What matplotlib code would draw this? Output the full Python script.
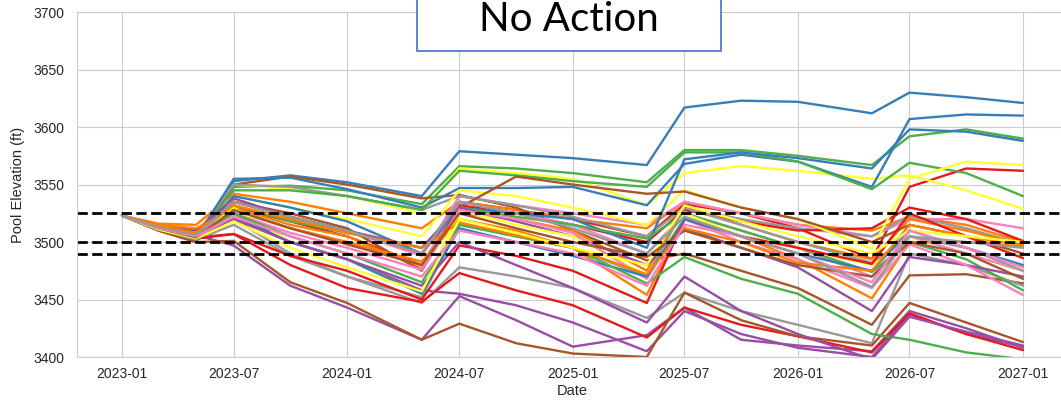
import pandas as pd
import matplotlib
matplotlib.use("Agg")
import matplotlib.pyplot as plt
import matplotlib.dates as mdates
import matplotlib.patches as patches
import seaborn as sns

# sample dates (key points of each trace)
dates = pd.to_datetime([
    "2023-01-01", "2023-03-01", "2023-05-01", "2023-07-01", "2023-10-01",
    "2024-01-01", "2024-05-01", "2024-07-01", "2024-10-01",
    "2025-01-01", "2025-05-01", "2025-07-01", "2025-10-01",
    "2026-01-01", "2026-05-01", "2026-07-01", "2026-10-01", "2027-01-01",
])

# pool elevation traces (ft)
red_1 = [3523, 3513, 3507, 3535, 3522, 3510, 3490, 3535, 3528, 3520, 3505, 3533, 3525, 3512, 3485, 3548, 3564, 3562]
blue_1 = [3523, 3512, 3505, 3553, 3558, 3552, 3540, 3579, 3576, 3573, 3567, 3617, 3623, 3622, 3612, 3630, 3626, 3621]
green_1 = [3523, 3511, 3504, 3548, 3549, 3545, 3533, 3566, 3564, 3560, 3552, 3580, 3580, 3575, 3567, 3592, 3598, 3590]
purple_1 = [3523, 3513, 3506, 3497, 3462, 3443, 3415, 3453, 3432, 3409, 3419, 3443, 3415, 3410, 3405, 3440, 3425, 3408]
orange_1 = [3523, 3516, 3515, 3542, 3535, 3525, 3512, 3535, 3528, 3520, 3512, 3535, 3525, 3515, 3510, 3522, 3515, 3500]
yellow_1 = [3523, 3513, 3506, 3550, 3546, 3540, 3525, 3564, 3560, 3555, 3532, 3560, 3566, 3562, 3555, 3558, 3545, 3529]
brown_1 = [3523, 3510, 3500, 3550, 3557, 3550, 3538, 3541, 3530, 3510, 3484, 3490, 3475, 3460, 3428, 3471, 3472, 3464]
pink_1 = [3523, 3514, 3510, 3530, 3520, 3510, 3488, 3540, 3532, 3525, 3515, 3535, 3525, 3515, 3505, 3520, 3520, 3512]
gray_1 = [3523, 3512, 3505, 3550, 3548, 3540, 3528, 3540, 3532, 3522, 3505, 3530, 3520, 3512, 3505, 3523, 3512, 3498]

red_2 = [3523, 3512, 3506, 3530, 3518, 3505, 3480, 3532, 3525, 3515, 3500, 3528, 3518, 3510, 3512, 3530, 3520, 3501]
blue_2 = [3523, 3511, 3503, 3555, 3556, 3546, 3530, 3547, 3547, 3548, 3532, 3568, 3576, 3570, 3548, 3607, 3611, 3610]
green_2 = [3523, 3512, 3504, 3545, 3545, 3540, 3528, 3562, 3558, 3553, 3548, 3578, 3578, 3570, 3546, 3569, 3560, 3540]
purple_2 = [3523, 3512, 3508, 3525, 3500, 3485, 3458, 3455, 3445, 3430, 3405, 3440, 3420, 3408, 3400, 3437, 3420, 3409]
orange_2 = [3523, 3514, 3510, 3530, 3515, 3505, 3477, 3525, 3520, 3510, 3475, 3530, 3515, 3500, 3485, 3520, 3510, 3498]
yellow_2 = [3523, 3512, 3505, 3540, 3530, 3520, 3505, 3545, 3540, 3530, 3515, 3545, 3530, 3520, 3494, 3555, 3570, 3567]
brown_2 = [3523, 3511, 3503, 3535, 3525, 3512, 3475, 3530, 3557, 3550, 3542, 3544, 3530, 3520, 3500, 3515, 3505, 3490]
pink_2 = [3523, 3512, 3507, 3527, 3512, 3500, 3480, 3535, 3525, 3515, 3490, 3525, 3510, 3495, 3470, 3505, 3490, 3475]
gray_2 = [3523, 3512, 3503, 3520, 3490, 3470, 3447, 3478, 3470, 3460, 3434, 3456, 3440, 3428, 3412, 3490, 3480, 3462]

red_3 = [3523, 3511, 3504, 3507, 3480, 3460, 3448, 3473, 3458, 3445, 3417, 3443, 3428, 3418, 3404, 3438, 3420, 3406]
blue_3 = [3523, 3512, 3504, 3540, 3530, 3518, 3490, 3530, 3525, 3520, 3495, 3572, 3578, 3573, 3564, 3598, 3596, 3588]
green_3 = [3523, 3513, 3507, 3532, 3518, 3508, 3495, 3530, 3522, 3515, 3503, 3525, 3510, 3495, 3474, 3500, 3485, 3458]
purple_3 = [3523, 3514, 3510, 3538, 3522, 3510, 3495, 3530, 3518, 3505, 3480, 3512, 3495, 3478, 3440, 3487, 3480, 3470]
orange_3 = [3523, 3515, 3512, 3528, 3512, 3500, 3483, 3520, 3510, 3495, 3454, 3520, 3505, 3485, 3451, 3500, 3500, 3496]
yellow_3 = [3523, 3512, 3504, 3530, 3500, 3485, 3455, 3528, 3515, 3505, 3471, 3525, 3505, 3495, 3480, 3505, 3495, 3475]
brown_3 = [3523, 3510, 3500, 3501, 3465, 3447, 3415, 3429, 3412, 3403, 3400, 3456, 3432, 3418, 3410, 3447, 3430, 3413]
pink_3 = [3523, 3513, 3508, 3525, 3508, 3495, 3476, 3528, 3520, 3508, 3468, 3520, 3500, 3485, 3460, 3498, 3480, 3454]
gray_3 = [3523, 3511, 3502, 3515, 3488, 3470, 3452, 3515, 3505, 3495, 3470, 3530, 3515, 3500, 3482, 3505, 3495, 3475]

red_4 = [3523, 3512, 3503, 3507, 3488, 3475, 3450, 3497, 3488, 3475, 3447, 3520, 3505, 3495, 3481, 3525, 3505, 3486]
blue_4 = [3523, 3512, 3502, 3522, 3500, 3485, 3455, 3512, 3500, 3488, 3470, 3520, 3505, 3490, 3475, 3510, 3495, 3480]
green_4 = [3523, 3512, 3505, 3525, 3505, 3490, 3465, 3515, 3505, 3495, 3464, 3487, 3468, 3455, 3420, 3415, 3404, 3398]
purple_4 = [3523, 3512, 3505, 3520, 3500, 3485, 3462, 3500, 3480, 3460, 3430, 3470, 3440, 3420, 3398, 3435, 3422, 3410]
orange_4 = [3523, 3514, 3508, 3532, 3520, 3508, 3495, 3517, 3506, 3495, 3472, 3512, 3500, 3482, 3475, 3515, 3505, 3497]
yellow_4 = [3523, 3511, 3503, 3518, 3495, 3478, 3457, 3520, 3508, 3495, 3480, 3532, 3518, 3505, 3490, 3510, 3505, 3500]
brown_4 = [3523, 3512, 3504, 3528, 3512, 3498, 3480, 3525, 3512, 3500, 3487, 3510, 3495, 3480, 3470, 3500, 3490, 3468]
pink_4 = [3523, 3512, 3505, 3522, 3505, 3490, 3470, 3510, 3500, 3490, 3462, 3515, 3505, 3490, 3465, 3510, 3495, 3478]
gray_4 = [3523, 3513, 3506, 3535, 3522, 3510, 3490, 3535, 3525, 3512, 3490, 3522, 3505, 3490, 3461, 3505, 3500, 3495]

traces = [
    red_1, blue_1, green_1, purple_1, orange_1, yellow_1, brown_1, pink_1, gray_1,
    red_2, blue_2, green_2, purple_2, orange_2, yellow_2, brown_2, pink_2, gray_2,
    red_3, blue_3, green_3, purple_3, orange_3, yellow_3, brown_3, pink_3, gray_3,
    red_4, blue_4, green_4, purple_4, orange_4, yellow_4, brown_4, pink_4, gray_4,
]

# reference elevations (ft)
thresholds = [3525, 3500, 3490]

# Set1 palette, cycled
palette = ["#E41A1C", "#377EB8", "#4DAF4A", "#984EA3", "#FF7F00",
           "#FFFF33", "#A65628", "#F781BF", "#999999"]

sns.set_style("whitegrid")
plt.rcParams["font.family"] = ["Liberation Sans", "DejaVu Sans"]

fig = plt.figure(figsize=(10.61, 4.01), dpi=100)
ax = fig.add_axes([0.0726, 0.1097, 0.934, 0.860])

for i, vals in enumerate(traces):
    ax.plot(dates, vals, color=palette[i % len(palette)], linewidth=1.7)

for lvl in thresholds:
    ax.axhline(lvl, color="black", linestyle="--", linewidth=2)

ax.set_ylim(3400, 3700)
ax.set_yticks(range(3400, 3701, 50))
ax.xaxis.set_major_locator(mdates.MonthLocator(bymonth=[1, 7]))
ax.xaxis.set_major_formatter(mdates.DateFormatter("%Y-%m"))
ax.tick_params(axis="both", length=0, labelsize=10, colors="#262626")
ax.tick_params(axis="y", pad=9)
ax.tick_params(axis="x", pad=7)
for s in ax.spines.values():
    s.set_color("#cccccc")

ax.set_ylabel("Pool Elevation (ft)", fontsize=10.5, color="#262626")
ax.set_xlabel("Date", fontsize=10.5, color="#262626")
ax.yaxis.set_label_coords(-0.052, 0.5)
ax.xaxis.set_label_coords(0.5, -0.078)

# title box pasted over the top of the plot
box = patches.Rectangle((417 / 1061, 1 - 51 / 401), 304 / 1061, 0.2,
                        transform=fig.transFigure, facecolor="white",
                        edgecolor="#4472C4", linewidth=1.2, zorder=5)
fig.add_artist(box)
fig.text(568.5 / 1061, 1 - 31 / 401, "No Action", ha="center", va="baseline",
         fontsize=29, family=["Lato", "DejaVu Sans"], color="black", zorder=6)

fig.savefig("out.png", dpi=100)
